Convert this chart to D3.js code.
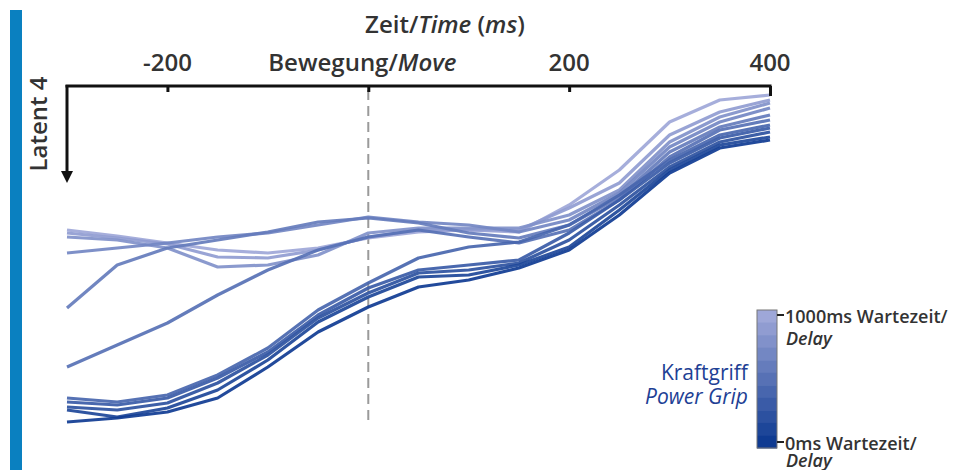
<!DOCTYPE html>
<html>
<head>
<meta charset="utf-8">
<script src="https://cdn.jsdelivr.net/npm/d3@7"></script>
<style>
  body { margin: 0; background: #fff; }
  svg { display: block; font-family: "Open Sans", sans-serif; }
</style>
</head>
<body>
<svg id="chart" width="962" height="470"></svg>
<script>
// time points (ms relative to movement onset)
let times = [-300, -250, -200, -150, -100, -50, 0, 50, 100, 150, 200, 250, 300, 350, 400];
let tickValues = [-200, 0, 200, 400];
let tickLabels = ['-200', 'Bewegung/', '200', '400'];
// delay conditions (ms), 0 = darkest
let delays = [0, 100, 200, 300, 400, 500, 600, 700, 800, 900, 1000];

// latent 4 values per delay (axis points downward)
let latent_d0    = [336, 332, 326, 312, 281, 246, 221, 201, 194, 182, 164, 129, 87, 62, 54];
let latent_d100  = [324, 331, 322, 304, 274, 236, 211, 191, 189, 179, 161, 124, 84, 59, 51];
let latent_d200  = [321, 324, 317, 297, 269, 232, 207, 187, 184, 177, 154, 119, 81, 56, 46];
let latent_d300  = [316, 319, 312, 292, 266, 229, 202, 184, 179, 174, 147, 114, 77, 52, 42];
let latent_d400  = [312, 316, 309, 289, 262, 224, 197, 172, 161, 156, 139, 109, 74, 49, 39];
let latent_d500  = [281, 259, 237, 209, 184, 164, 151, 144, 151, 157, 144, 114, 71, 44, 34];
let latent_d600  = [222, 179, 162, 154, 146, 136, 132, 137, 147, 152, 139, 111, 66, 41, 29];
let latent_d700  = [167, 162, 157, 151, 147, 139, 131, 136, 139, 146, 134, 107, 61, 36, 22];
let latent_d800  = [151, 154, 162, 181, 179, 169, 147, 142, 142, 142, 129, 104, 56, 31, 17];
let latent_d900  = [147, 152, 158, 171, 172, 164, 151, 144, 144, 144, 122, 97, 49, 26, 14];
let latent_d1000 = [144, 150, 157, 164, 167, 162, 152, 146, 144, 146, 119, 84, 36, 14, 9];

let series = [latent_d0, latent_d100, latent_d200, latent_d300, latent_d400, latent_d500,
              latent_d600, latent_d700, latent_d800, latent_d900, latent_d1000];

let svg = d3.select('#chart');

let xScale = d3.scaleLinear()
    .domain([-300, 400])
    .range([67, 770]);

let yScale = d3.scaleLinear()
    .domain([0, 350])
    .range([86, 436]);

let colorScale = d3.scaleLinear()
    .domain([0, 1000])
    .range(['#0f3b92', '#9ea7d8'])
    .interpolate(d3.interpolateRgb);

// blue side bar
svg.append('rect')
    .attr('x', 10).attr('y', 10)
    .attr('width', 12).attr('height', 460)
    .style('fill', '#0a80c0');

// dashed line at movement onset
svg.append('line')
    .attr('x1', xScale(0)).attr('x2', xScale(0))
    .attr('y1', 90).attr('y2', 423)
    .style('stroke', '#9a9a9a')
    .style('stroke-width', 2)
    .style('stroke-dasharray', '10,6');

// lines, light ones drawn first
let line = d3.line()
    .x(function (d, i) { return xScale(times[i]); })
    .y(function (d) { return yScale(d); });

let order = d3.range(series.length).reverse();
svg.selectAll('.latent')
    .data(order)
    .enter()
    .append('path')
    .attr('class', 'latent')
    .attr('d', function (i) { return line(series[i]); })
    .style('fill', 'none')
    .style('stroke', function (i) { return colorScale(delays[i]); })
    .style('stroke-width', 3.2)
    .style('stroke-opacity', 0.92)
    .style('stroke-linejoin', 'round');

// top x axis
let xAxis = d3.axisBottom(xScale)
    .tickValues(tickValues)
    .tickSize(6)
    .tickFormat('');
let gx = svg.append('g')
    .attr('transform', 'translate(0,86)')
    .call(xAxis);
gx.select('.domain').remove();
gx.selectAll('.tick line')
    .style('stroke', '#111')
    .style('stroke-width', 3)
    .attr('y2', function (d) { return d === 400 ? 10 : 6; });
svg.append('line')
    .attr('x1', xScale(-300) - 1.5).attr('x2', xScale(400) + 1.5)
    .attr('y1', 86).attr('y2', 86)
    .style('stroke', '#111')
    .style('stroke-width', 3);

// tick labels above the axis
svg.selectAll('.tlabel')
    .data(tickValues)
    .enter()
    .append('text')
    .attr('class', 'tlabel')
    .attr('x', function (d) { return d === 0 ? xScale(0) - 100 : xScale(d); })
    .attr('y', 71)
    .attr('text-anchor', function (d) { return d === 0 ? 'start' : 'middle'; })
    .style('font-size', '24px')
    .style('font-weight', 600)
    .style('fill', '#333')
    .text(function (d, i) { return tickLabels[i]; })
    .filter(function (d) { return d === 0; })
    .append('tspan')
    .style('font-style', 'italic')
    .text('Move');

// x title
let title = svg.append('text')
    .attr('x', 445).attr('y', 33)
    .attr('text-anchor', 'middle')
    .style('font-size', '24px')
    .style('font-weight', 600)
    .style('fill', '#333');
title.append('tspan').text('Zeit/');
title.append('tspan').style('font-style', 'italic').text('Time');
title.append('tspan').text(' (');
title.append('tspan').style('font-style', 'italic').text('ms');
title.append('tspan').text(')');

// y axis arrow (pointing down)
svg.append('defs').append('marker')
    .attr('id', 'arrow')
    .attr('viewBox', '0 0 10 10')
    .attr('refX', 5).attr('refY', 5)
    .attr('markerWidth', 4).attr('markerHeight', 4)
    .attr('orient', 'auto')
    .append('path')
    .attr('d', 'M0,0 L10,5 L0,10 z')
    .style('fill', '#111');
svg.append('line')
    .attr('x1', 67).attr('x2', 67)
    .attr('y1', 85).attr('y2', 177)
    .style('stroke', '#111')
    .style('stroke-width', 3)
    .attr('marker-end', 'url(#arrow)');

svg.append('text')
    .attr('transform', 'translate(47,124) rotate(-90)')
    .attr('text-anchor', 'middle')
    .style('font-size', '24px')
    .style('font-weight', 600)
    .style('fill', '#333')
    .text('Latent 4');

// legend colour bar
let legendScale = d3.scaleLinear()
    .domain([1000, 0])
    .range([310, 448]);
let bandH = (legendScale(0) - legendScale(1000)) / delays.length;
let legend = svg.append('g');
legend.selectAll('.band')
    .data(delays.slice().reverse())
    .enter()
    .append('rect')
    .attr('class', 'band')
    .attr('x', 757)
    .attr('y', function (d, i) { return legendScale(1000) + i * bandH; })
    .attr('width', 20)
    .attr('height', bandH + 0.5)
    .style('fill', function (d) { return colorScale(d); });
legend.append('rect')
    .attr('x', 757).attr('y', 310)
    .attr('width', 20).attr('height', 138)
    .style('fill', 'none')
    .style('stroke', '#777')
    .style('stroke-width', 1);

let legendTicks = [1000, 0];
let legendLabels = ['1000ms Wartezeit/', '0ms Wartezeit/'];
let legendY = [315, 442];
legendTicks.forEach(function (d, i) {
    legend.append('line')
        .attr('x1', 777).attr('x2', 784)
        .attr('y1', legendY[i]).attr('y2', legendY[i])
        .style('stroke', '#222')
        .style('stroke-width', 2);
    let t = legend.append('text')
        .attr('x', 785).attr('y', legendY[i] + 8)
        .style('font-size', '18px')
        .style('font-weight', 600)
        .style('fill', '#333');
    t.append('tspan').text(legendLabels[i]);
    t.append('tspan')
        .attr('x', 786).attr('dy', i === 0 ? 22 : 17)
        .style('font-style', 'italic')
        .text('Delay');
});

let grip = legend.append('text')
    .attr('x', 748).attr('y', 380)
    .attr('text-anchor', 'end')
    .style('font-size', '21px')
    .style('fill', '#1e3f95');
grip.append('tspan').text('Kraftgriff');
grip.append('tspan')
    .attr('x', 748).attr('dy', 24)
    .style('font-style', 'italic')
    .text('Power Grip');
</script>
</body>
</html>
